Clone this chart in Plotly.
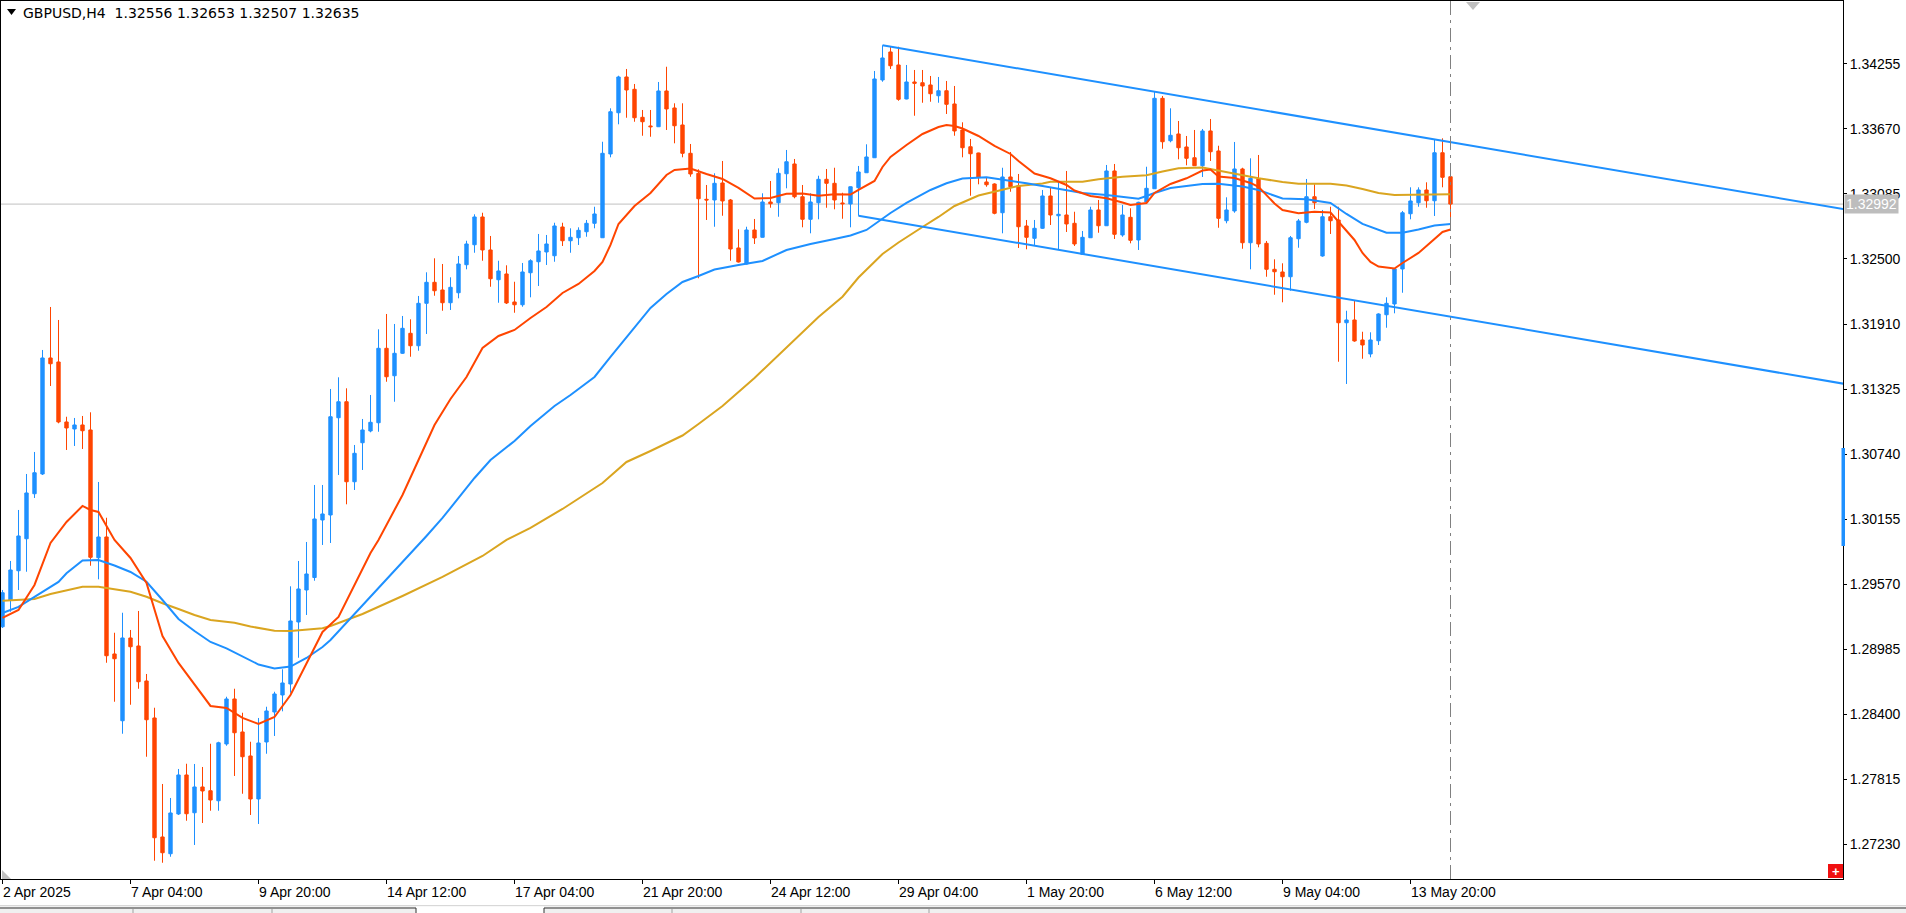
import plotly.graph_objects as go

# ---------------- data ----------------
x_tick_idx = [0, 16, 32, 48, 64, 80, 96, 112, 128, 144, 160, 176]
x_tick_text = ["2 Apr 2025", "7 Apr 04:00", "9 Apr 20:00", "14 Apr 12:00", "17 Apr 04:00",
               "21 Apr 20:00", "24 Apr 12:00", "29 Apr 04:00", "1 May 20:00", "6 May 12:00",
               "9 May 04:00", "13 May 20:00"]
y_tick_vals = [1.34255, 1.33670, 1.33085, 1.32500, 1.31910, 1.31325, 1.30740,
               1.30155, 1.29570, 1.28985, 1.28400, 1.27815, 1.27230]

opens = [1.29188, 1.29429, 1.29692, 1.29980, 1.30385, 1.30563, 1.31607, 1.31571, 1.31031, 1.30968,
         1.31004, 1.30959, 1.29809, 1.29996, 1.28943, 1.28342, 1.29087, 1.29015, 1.28700, 1.28367,
         1.27296, 1.27145, 1.27503, 1.27854, 1.27514, 1.27746, 1.27712, 1.27622, 1.28133, 1.28538,
         1.28241, 1.28025, 1.27638, 1.28151, 1.28421, 1.28574, 1.28673, 1.29231, 1.29519, 1.29631,
         1.30149, 1.30194, 1.31069, 1.31213, 1.30493, 1.30844, 1.30950, 1.31024, 1.31694, 1.31447,
         1.31649, 1.31829, 1.31717, 1.32099, 1.32288, 1.32219, 1.32104, 1.32194, 1.32446, 1.32626,
         1.32876, 1.32579, 1.32311, 1.32363, 1.32111, 1.32086, 1.32374, 1.32473, 1.32561, 1.32527,
         1.32786, 1.32662, 1.32689, 1.32743, 1.32819, 1.32689, 1.33443, 1.33814, 1.34136, 1.34025,
         1.33773, 1.33695, 1.33688, 1.34010, 1.33857, 1.33704, 1.33449, 1.33269, 1.33035, 1.33029,
         1.33182, 1.33029, 1.32597, 1.32453, 1.32759, 1.32693, 1.33011, 1.33004, 1.33265, 1.33353,
         1.33058, 1.32855, 1.33004, 1.33215, 1.33179, 1.33002, 1.32993, 1.33139, 1.33274, 1.33409,
         1.34109, 1.34361, 1.34244, 1.33938, 1.34091, 1.34084, 1.34064, 1.33967, 1.34012, 1.33893,
         1.33659, 1.33508, 1.33452, 1.33191, 1.33173, 1.32914, 1.33236, 1.33157, 1.32795, 1.32684,
         1.32774, 1.33065, 1.32887, 1.32894, 1.32819, 1.32540, 1.32689, 1.32939, 1.32797, 1.33290,
         1.32714, 1.32873, 1.32669, 1.33011, 1.33130, 1.33944, 1.33562, 1.33623, 1.33506, 1.33409,
         1.33337, 1.33650, 1.33470, 1.32842, 1.32930, 1.33308, 1.32644, 1.33218, 1.32639, 1.32405,
         1.32381, 1.32338, 1.32680, 1.32828, 1.33058, 1.32525, 1.32878, 1.32849, 1.31924, 1.31949,
         1.31769, 1.31643, 1.31762, 1.31996, 1.32093, 1.32408, 1.32905, 1.33004, 1.33119, 1.33022,
         1.33454, 1.33238]
highs = [1.29519, 1.29780, 1.30239, 1.30563, 1.30761, 1.31679, 1.32066, 1.31949, 1.31078, 1.31067,
         1.31085, 1.31118, 1.30491, 1.30169, 1.29134, 1.29314, 1.29159, 1.29330, 1.28763, 1.28459,
         1.27773, 1.27647, 1.27908, 1.27955, 1.27953, 1.27926, 1.28135, 1.28153, 1.28558, 1.28630,
         1.28414, 1.28153, 1.28367, 1.28468, 1.28603, 1.28805, 1.29552, 1.29780, 1.29951, 1.30464,
         1.30464, 1.31328, 1.31433, 1.31334, 1.30824, 1.31058, 1.31274, 1.31865, 1.32003, 1.31913,
         1.31985, 1.31955, 1.32165, 1.32378, 1.32504, 1.32453, 1.32333, 1.32525, 1.32662, 1.32900,
         1.32914, 1.32705, 1.32482, 1.32441, 1.32293, 1.32462, 1.32495, 1.32723, 1.32714, 1.32824,
         1.32824, 1.32774, 1.32783, 1.32849, 1.32968, 1.33553, 1.33854, 1.34147, 1.34208, 1.34073,
         1.33839, 1.33839, 1.34091, 1.34228, 1.33899, 1.33899, 1.33533, 1.33305, 1.33164, 1.33269,
         1.33380, 1.33038, 1.32765, 1.32788, 1.32858, 1.33089, 1.33200, 1.33314, 1.33479, 1.33398,
         1.33164, 1.33089, 1.33247, 1.33308, 1.33319, 1.33094, 1.33150, 1.33335, 1.33530, 1.34190,
         1.34421, 1.34408, 1.34408, 1.34244, 1.34199, 1.34199, 1.34145, 1.34136, 1.34100, 1.34055,
         1.33728, 1.33578, 1.33454, 1.33229, 1.33179, 1.33319, 1.33461, 1.33263, 1.32849, 1.32849,
         1.33119, 1.33143, 1.33200, 1.33290, 1.32923, 1.32750, 1.32968, 1.33029, 1.33344, 1.33353,
         1.32984, 1.32954, 1.33013, 1.33328, 1.34003, 1.33965, 1.33854, 1.33740, 1.33605, 1.33659,
         1.33668, 1.33758, 1.33517, 1.33053, 1.33551, 1.33319, 1.33404, 1.33434, 1.32660, 1.32495,
         1.32459, 1.32705, 1.32858, 1.33218, 1.33170, 1.32939, 1.32968, 1.32968, 1.32032, 1.32122,
         1.31843, 1.31838, 1.32009, 1.32153, 1.32410, 1.32930, 1.33143, 1.33143, 1.33188, 1.33575,
         1.33584, 1.33299]
lows = [1.29177, 1.29323, 1.29519, 1.29683, 1.30347, 1.30554, 1.31355, 1.31019, 1.30779, 1.30815,
        1.30788, 1.29737, 1.29615, 1.28864, 1.28513, 1.28225, 1.28486, 1.28630, 1.28018, 1.27082,
        1.27064, 1.27118, 1.27494, 1.27442, 1.27224, 1.27422, 1.27532, 1.27532, 1.28117, 1.27845,
        1.27685, 1.27494, 1.27413, 1.28045, 1.28205, 1.28427, 1.28594, 1.28909, 1.29294, 1.29602,
        1.29924, 1.29942, 1.30554, 1.30290, 1.30419, 1.30599, 1.30938, 1.30943, 1.31393, 1.31213,
        1.31643, 1.31618, 1.31672, 1.31823, 1.32167, 1.32032, 1.32039, 1.32144, 1.32405, 1.32554,
        1.32482, 1.32248, 1.32104, 1.32093, 1.32014, 1.32068, 1.32153, 1.32255, 1.32444, 1.32473,
        1.32615, 1.32554, 1.32624, 1.32698, 1.32774, 1.32687, 1.33413, 1.33710, 1.33769, 1.33733,
        1.33607, 1.33598, 1.33686, 1.33659, 1.33539, 1.33413, 1.33238, 1.32324, 1.32849, 1.32788,
        1.32887, 1.32482, 1.32466, 1.32448, 1.32633, 1.32691, 1.32959, 1.32878, 1.33134, 1.33044,
        1.32783, 1.32729, 1.32855, 1.32959, 1.32945, 1.32860, 1.32783, 1.32887, 1.33272, 1.33407,
        1.34093, 1.34208, 1.33922, 1.33935, 1.33787, 1.33904, 1.33913, 1.33904, 1.33803, 1.33607,
        1.33413, 1.33067, 1.33170, 1.33148, 1.32900, 1.32729, 1.33103, 1.32597, 1.32585, 1.32624,
        1.32768, 1.32804, 1.32579, 1.32741, 1.32615, 1.32538, 1.32687, 1.32734, 1.32795, 1.32678,
        1.32698, 1.32639, 1.32579, 1.32999, 1.33128, 1.33490, 1.33548, 1.33395, 1.33341, 1.33335,
        1.33236, 1.33380, 1.32779, 1.32819, 1.32914, 1.32590, 1.32405, 1.32603, 1.32338, 1.32176,
        1.32108, 1.32212, 1.32599, 1.32819, 1.32948, 1.32518, 1.32723, 1.31573, 1.31373, 1.31753,
        1.31600, 1.31613, 1.31724, 1.31879, 1.32009, 1.32194, 1.32855, 1.32968, 1.32959, 1.32885,
        1.33143, 1.32819]
closes = [1.29494, 1.29699, 1.30005, 1.30392, 1.30574, 1.31607, 1.31555, 1.31031, 1.30977, 1.31004,
          1.30952, 1.29813, 1.29996, 1.28927, 1.28900, 1.29087, 1.29008, 1.28693, 1.28351, 1.27289,
          1.27154, 1.27512, 1.27854, 1.27505, 1.27746, 1.27710, 1.27629, 1.28144, 1.28538, 1.28234,
          1.28018, 1.27638, 1.28142, 1.28430, 1.28583, 1.28682, 1.29240, 1.29528, 1.29663, 1.30158,
          1.30203, 1.31078, 1.31213, 1.30493, 1.30749, 1.30959, 1.31028, 1.31694, 1.31438, 1.31649,
          1.31874, 1.31717, 1.32099, 1.32288, 1.32212, 1.32104, 1.32243, 1.32453, 1.32633, 1.32876,
          1.32579, 1.32320, 1.32390, 1.32102, 1.32086, 1.32381, 1.32482, 1.32570, 1.32633, 1.32795,
          1.32662, 1.32693, 1.32756, 1.32819, 1.32903, 1.33449, 1.33823, 1.34136, 1.34019, 1.33769,
          1.33733, 1.33688, 1.34010, 1.33848, 1.33697, 1.33449, 1.33263, 1.33040, 1.33029, 1.33179,
          1.33020, 1.32588, 1.32471, 1.32759, 1.32687, 1.33011, 1.32995, 1.33269, 1.33373, 1.33058,
          1.32855, 1.33011, 1.33215, 1.33179, 1.33029, 1.32995, 1.33148, 1.33281, 1.33416, 1.34118,
          1.34307, 1.34237, 1.33935, 1.34091, 1.34079, 1.34055, 1.33985, 1.34012, 1.33890, 1.33650,
          1.33499, 1.33445, 1.33233, 1.33166, 1.32909, 1.33236, 1.33148, 1.32788, 1.32693, 1.32774,
          1.33065, 1.32894, 1.32900, 1.32813, 1.32633, 1.32693, 1.32939, 1.32797, 1.33290, 1.32720,
          1.32894, 1.32666, 1.33008, 1.33134, 1.33944, 1.33553, 1.33611, 1.33499, 1.33404, 1.33337,
          1.33650, 1.33463, 1.32864, 1.32939, 1.33308, 1.32644, 1.33224, 1.32633, 1.32405, 1.32383,
          1.32338, 1.32689, 1.32840, 1.33058, 1.33004, 1.32878, 1.32842, 1.31924, 1.31949, 1.31760,
          1.31724, 1.31769, 1.32003, 1.32099, 1.32408, 1.32914, 1.33020, 1.33119, 1.33022, 1.33454,
          1.33233, 1.32992]

ma_red_idx = [0, 2, 4, 6, 8, 10, 11, 12, 14, 16, 18, 20, 22, 24, 26, 28, 30, 32, 34, 36,
              38, 40, 42, 44, 46, 47, 50, 52, 54, 56, 58, 60, 62, 64, 66, 68, 70, 72, 74, 75,
              76, 77, 79, 81, 83, 84, 86, 88, 90, 92, 94, 96, 98, 100, 102, 104, 106, 107, 109, 110,
              111, 113, 115, 117, 118, 119, 120, 122, 124, 126, 127, 129, 131, 133, 134, 136, 138, 140, 141, 143,
              144, 146, 148, 150, 151, 152, 154, 156, 157, 159, 160, 162, 164, 166, 167, 168, 169, 170, 171, 172,
              174, 175, 177, 178, 180, 181]
ma_red = [1.29267, 1.29339, 1.29564, 1.29942, 1.30131, 1.30275, 1.30239, 1.30221, 1.29969, 1.29807,
          1.29582, 1.29105, 1.28862, 1.28664, 1.28475, 1.28457, 1.28367, 1.28313, 1.28376, 1.28574,
          1.28853, 1.29141, 1.29276, 1.29564, 1.29852, 1.29969, 1.30374, 1.30689, 1.31004, 1.31238,
          1.31436, 1.31697, 1.31805, 1.31859, 1.31967, 1.32066, 1.32192, 1.32273, 1.32390, 1.32471,
          1.32624, 1.32813, 1.32975, 1.33092, 1.33254, 1.33299, 1.33312, 1.33263, 1.33218, 1.33137,
          1.33042, 1.33047, 1.33085, 1.33087, 1.33067, 1.33080, 1.33078, 1.33119, 1.33200, 1.33326,
          1.33416, 1.33524, 1.33623, 1.33686, 1.33704, 1.33695, 1.33672, 1.33605, 1.33515, 1.33443,
          1.33380, 1.33267, 1.33224, 1.33164, 1.33114, 1.33065, 1.33044, 1.33006, 1.32984, 1.33002,
          1.33092, 1.33173, 1.33224, 1.33294, 1.33303, 1.33240, 1.33227, 1.33182, 1.33148, 1.32997,
          1.32939, 1.32909, 1.32923, 1.32916, 1.32831, 1.32750, 1.32669, 1.32552, 1.32471, 1.32430,
          1.32412, 1.32462, 1.32552, 1.32615, 1.32741, 1.32763]

ma_blue_idx = [0, 2, 4, 5, 7, 8, 10, 12, 14, 16, 18, 20, 22, 24, 26, 28, 30, 32, 34, 36,
               38, 40, 41, 44, 47, 50, 53, 55, 57, 59, 61, 64, 66, 69, 71, 74, 76, 79, 81, 83,
               85, 87, 89, 92, 95, 98, 101, 104, 106, 108, 110, 111, 113, 116, 118, 120, 123, 125, 128, 130,
               133, 135, 138, 140, 142, 143, 144, 146, 148, 150, 152, 155, 157, 160, 163, 166, 168, 170, 173, 175,
               177, 179, 181]
ma_blue = [1.29312, 1.29366, 1.29456, 1.29501, 1.29591, 1.29669, 1.29784, 1.29789, 1.29739, 1.29681,
           1.29593, 1.29429, 1.29258, 1.29150, 1.29051, 1.28994, 1.28920, 1.28848, 1.28812, 1.28830,
           1.28907, 1.29006, 1.29069, 1.29303, 1.29537, 1.29762, 1.30005, 1.30167, 1.30347, 1.30527,
           1.30689, 1.30860, 1.30995, 1.31175, 1.31274, 1.31436, 1.31616, 1.31886, 1.32057, 1.32183,
           1.32291, 1.32345, 1.32403, 1.32444, 1.32480, 1.32579, 1.32633, 1.32678, 1.32709, 1.32759,
           1.32862, 1.32912, 1.33002, 1.33119, 1.33179, 1.33222, 1.33233, 1.33213, 1.33179, 1.33155,
           1.33119, 1.33092, 1.33074, 1.33056, 1.33040, 1.33065, 1.33092, 1.33137, 1.33155, 1.33173,
           1.33175, 1.33150, 1.33119, 1.33042, 1.33035, 1.33002, 1.32903, 1.32813, 1.32734, 1.32734,
           1.32763, 1.32799, 1.32813]

ma_gold_idx = [0, 4, 6, 8, 10, 12, 14, 16, 18, 20, 22, 24, 26, 29, 31, 34, 36, 38, 40, 41,
               45, 50, 55, 60, 63, 66, 70, 75, 78, 81, 85, 87, 90, 94, 98, 102, 105, 107, 110, 112,
               115, 117, 119, 122, 125, 127, 130, 131, 135, 137, 140, 143, 145, 147, 150, 152, 155, 157, 160, 162,
               166, 168, 170, 172, 174, 177, 179, 181]
ma_gold = [1.29422, 1.29438, 1.29483, 1.29519, 1.29548, 1.29548, 1.29525, 1.29503, 1.29458, 1.29399,
           1.29348, 1.29294, 1.29249, 1.29224, 1.29190, 1.29152, 1.29150, 1.29159, 1.29174, 1.29195,
           1.29303, 1.29465, 1.29636, 1.29825, 1.29969, 1.30077, 1.30248, 1.30482, 1.30671, 1.30770,
           1.30909, 1.31013, 1.31175, 1.31427, 1.31706, 1.31976, 1.32158, 1.32331, 1.32543, 1.32646,
           1.32786, 1.32876, 1.32975, 1.33069, 1.33121, 1.33155, 1.33177, 1.33193, 1.33193, 1.33215,
           1.33238, 1.33251, 1.33285, 1.33314, 1.33321, 1.33294, 1.33254, 1.33224, 1.33191, 1.33175,
           1.33175, 1.33159, 1.33128, 1.33092, 1.33074, 1.33074, 1.33074, 1.33080]

# equidistant channel anchors (bar index, price)
channel_idx = [110, 182]
channel_price = [1.34421, 1.33537]
channel_p3_idx = 107
channel_p3_price = 1.32887

title_text = "GBPUSD,H4\u00a0 1.32556 1.32653 1.32507 1.32635"

# ---------------- style ----------------
BULL = "#1E90FF"
BEAR = "#FF4500"
GOLD = "#DAA520"
FONT = "Liberation Sans, Arial, sans-serif"
TITLE_FONT = "DejaVu Sans, Verdana, sans-serif"
W, H = 1906, 913
ML, MR, MT, MB = 1, 63, 1, 34
X_RANGE = [-0.1875, 230.0625]
Y_RANGE = [1.269177, 1.348197]
PW, PH = W - ML - MR, H - MT - MB


def px(x):
    return (x - ML) / PW


def py(y):
    return (H - MB - y) / PH


n = len(closes)
idx = list(range(n))

fig = go.Figure()
fig.add_trace(go.Candlestick(
    x=idx, open=opens, high=highs, low=lows, close=closes,
    increasing=dict(line=dict(color=BULL, width=1), fillcolor=BULL),
    decreasing=dict(line=dict(color=BEAR, width=1), fillcolor=BEAR),
    whiskerwidth=0, hoverinfo="skip", showlegend=False))

for xs, ys, col in [(ma_gold_idx, ma_gold, GOLD), (ma_blue_idx, ma_blue, BULL), (ma_red_idx, ma_red, BEAR)]:
    fig.add_trace(go.Scatter(x=xs, y=ys, mode="lines", line=dict(color=col, width=2),
                             hoverinfo="skip", showlegend=False))

# channel lines (rays extended to the right edge)
slope = (channel_price[1] - channel_price[0]) / (channel_idx[1] - channel_idx[0])
x_end = X_RANGE[1] + 5
fig.add_trace(go.Scatter(x=[channel_idx[0], x_end],
                         y=[channel_price[0], channel_price[0] + slope * (x_end - channel_idx[0])],
                         mode="lines", line=dict(color=BULL, width=2), hoverinfo="skip", showlegend=False))
fig.add_trace(go.Scatter(x=[channel_p3_idx, x_end],
                         y=[channel_p3_price, channel_p3_price + slope * (x_end - channel_p3_idx)],
                         mode="lines", line=dict(color=BULL, width=2), hoverinfo="skip", showlegend=False))

shapes = []
# bid line
shapes.append(dict(type="line", xref="paper", yref="y", x0=0, x1=1, y0=closes[-1], y1=closes[-1],
                   line=dict(color="#C0C0C0", width=1), layer="below"))
# vertical dashed line at last bar
shapes.append(dict(type="line", xref="x", yref="paper", x0=n - 1, x1=n - 1, y0=0, y1=1,
                   line=dict(color="#808080", width=1, dash="14px,5px,3px,5px")))
# chart shift marker (top)
shapes.append(dict(type="path", xref="paper", yref="paper",
                   path=f"M {px(1466)} {py(2)} L {px(1480)} {py(2)} L {px(1473)} {py(10)} Z",
                   fillcolor="#C0C0C0", line=dict(width=0)))
# bottom-left marker
shapes.append(dict(type="path", xref="paper", yref="paper",
                   path=f"M {px(2)} {py(870)} L {px(2)} {py(879)} L {px(11)} {py(879)} Z",
                   fillcolor="#C0C0C0", line=dict(width=0)))
# title triangle
shapes.append(dict(type="path", xref="paper", yref="paper",
                   path=f"M {px(7)} {py(9)} L {px(16)} {py(9)} L {px(11.5)} {py(15)} Z",
                   fillcolor="black", line=dict(width=0)))
# red box bottom right
shapes.append(dict(type="rect", xref="paper", yref="paper", x0=px(1828), x1=px(1843), y0=py(878), y1=py(864),
                   fillcolor="#F01010", line=dict(width=0)))
# blue marker on price scale
shapes.append(dict(type="rect", xref="paper", yref="paper", x0=px(1841.5), x1=px(1845), y0=py(546), y1=py(448),
                   fillcolor=BULL, line=dict(width=0)))
# bottom tab strip
shapes.append(dict(type="rect", xref="paper", yref="paper", x0=px(0), x1=px(1906), y0=py(913), y1=py(905.5),
                   fillcolor="#F0F0F0", line=dict(width=0), layer="below"))
shapes.append(dict(type="line", xref="paper", yref="paper", x0=px(0), x1=px(1906), y0=py(905.5), y1=py(905.5),
                   line=dict(color="#D8D8D8", width=1)))
shapes.append(dict(type="rect", xref="paper", yref="paper", x0=px(416), x1=px(544), y0=py(913), y1=py(906.5),
                   fillcolor="white", line=dict(width=0)))
for a, b in [(0, 416), (544, 1906)]:
    shapes.append(dict(type="line", xref="paper", yref="paper", x0=px(a), x1=px(b), y0=py(908), y1=py(908),
                       line=dict(color="#333333", width=1)))
for xv in [416, 544]:
    shapes.append(dict(type="line", xref="paper", yref="paper", x0=px(xv), x1=px(xv), y0=py(913), y1=py(908),
                       line=dict(color="#333333", width=1)))
for xv in [133, 272, 672, 801, 929]:
    shapes.append(dict(type="line", xref="paper", yref="paper", x0=px(xv), x1=px(xv), y0=py(913), y1=py(909),
                       line=dict(color="#A0A0A0", width=1)))

annotations = []
for i, t in zip(x_tick_idx, x_tick_text):
    annotations.append(dict(x=i, xref="x", y=0, yref="paper", yshift=-13, xshift=-2, text=t,
                            showarrow=False, xanchor="left", yanchor="middle",
                            font=dict(family=FONT, size=14, color="black")))
annotations.append(dict(x=px(21), xref="paper", y=py(13), yref="paper", text=title_text, showarrow=False,
                        xanchor="left", yanchor="middle", font=dict(family=TITLE_FONT, size=14, color="black")))
annotations.append(dict(x=1, xref="paper", y=closes[-1], yref="y", xshift=1, text=f"{closes[-1]:.5f}",
                        showarrow=False, xanchor="left", yanchor="middle", bgcolor="#BDBDBD",
                        borderpad=1, font=dict(family=FONT, size=14, color="white")))
annotations.append(dict(x=px(1835.5), xref="paper", y=py(871), yref="paper", text="<b>+</b>", showarrow=False,
                        xanchor="center", yanchor="middle", font=dict(family=FONT, size=13, color="white")))

fig.update_layout(
    width=W, height=H, margin=dict(l=ML, r=MR, t=MT, b=MB, pad=0),
    paper_bgcolor="white", plot_bgcolor="white", showlegend=False, boxgap=0.4,
    shapes=shapes, annotations=annotations,
    xaxis=dict(range=X_RANGE, showgrid=False, zeroline=False, showline=True, mirror=True,
               linecolor="black", linewidth=1, ticks="outside", ticklen=4, tickcolor="black",
               tickvals=x_tick_idx, showticklabels=False, rangeslider=dict(visible=False), fixedrange=True),
    yaxis=dict(range=Y_RANGE, side="right", showgrid=False, zeroline=False, showline=True, mirror=True,
               linecolor="black", linewidth=1, ticks="outside", ticklen=3, tickcolor="black",
               tickvals=y_tick_vals, ticktext=[f"{v:.5f}" for v in y_tick_vals],
               tickfont=dict(family=FONT, size=14, color="black"), fixedrange=True),
)

fig.write_html("out.html")
